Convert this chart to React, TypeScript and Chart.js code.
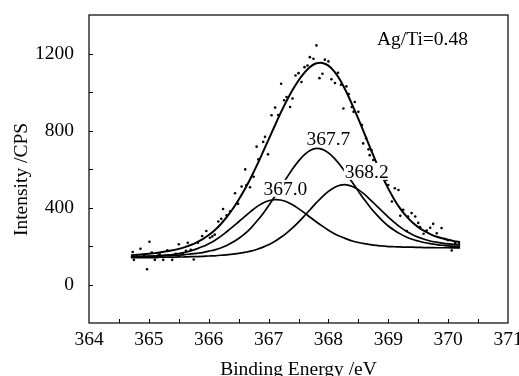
import React, { useEffect, useRef } from "react";
import { Chart, registerables } from "chart.js";

Chart.register(...registerables);

// ---------- data ----------
const energy = [
  364.7, 364.8, 364.9, 365.0, 365.1, 365.2, 365.3, 365.4, 365.5, 365.6,
  365.7, 365.8, 365.9, 366.0, 366.1, 366.2, 366.3, 366.4, 366.5, 366.6,
  366.7, 366.8, 366.9, 367.0, 367.1, 367.2, 367.3, 367.4, 367.5, 367.6,
  367.7, 367.8, 367.9, 368.0, 368.1, 368.2, 368.3, 368.4, 368.5, 368.6,
  368.7, 368.8, 368.9, 369.0, 369.1, 369.2, 369.3, 369.4, 369.5, 369.6,
  369.7, 369.8, 369.9, 370.0, 370.1, 370.2,
];

const envelope = [
  152, 154, 157, 160, 163, 168, 173, 178, 185, 194,
  205, 219, 236, 257, 282, 313, 350, 392, 440, 493,
  552, 616, 684, 753, 822, 890, 953, 1010, 1060, 1101,
  1132, 1149, 1151, 1137, 1106, 1060, 1000, 932, 860, 785,
  708, 633, 562, 498, 442, 394, 355, 323, 298, 278,
  262, 249, 240, 232, 225, 220,
];

const peak3670 = [
  143, 144, 145, 146, 147, 150, 153, 156, 161, 167,
  175, 185, 197, 212, 229, 250, 274, 299, 326, 353,
  379, 403, 422, 435, 441, 439, 430, 414, 394, 372,
  348, 325, 303, 282, 264, 249, 237, 226, 218, 212,
  207, 203, 200, 197, 196, 195, 194, 194, 193, 192,
  192, 191, 191, 191, 190, 190,
];

const peak3677 = [
  144, 145, 146, 147, 147, 149, 151, 152, 153, 155,
  159, 162, 166, 173, 180, 190, 203, 219, 239, 263,
  292, 327, 365, 409, 456, 505, 553, 600, 641, 675,
  697, 707, 702, 684, 655, 618, 575, 530, 485, 441,
  400, 364, 332, 304, 282, 263, 247, 235, 226, 218,
  212, 207, 204, 201, 199, 198,
];

const peak3682 = [
  139, 139, 140, 140, 140, 142, 142, 142, 143, 143,
  145, 145, 146, 148, 149, 152, 154, 158, 162, 167,
  173, 182, 193, 206, 223, 244, 267, 294, 324, 357,
  391, 425, 457, 484, 504, 516, 518, 509, 493, 469,
  440, 410, 380, 350, 323, 298, 277, 260, 246, 235,
  226, 220, 215, 211, 208, 206,
];

const obsEnergy = [
  364.73, 364.75, 364.8, 364.86, 364.92, 364.97, 365.01, 365.05, 365.1, 365.15,
  365.18, 365.24, 365.31, 365.35, 365.39, 365.45, 365.5, 365.57, 365.62, 365.65,
  365.7, 365.75, 365.82, 365.89, 365.96, 366.02, 366.06, 366.1, 366.16, 366.21,
  366.24, 366.3, 366.36, 366.44, 366.49, 366.55, 366.61, 366.63, 366.69, 366.75,
  366.8, 366.83, 366.91, 366.94, 366.99, 367.05, 367.11, 367.16, 367.21, 367.26,
  367.3, 367.36, 367.4, 367.45, 367.5, 367.55, 367.6, 367.65, 367.69, 367.75,
  367.8, 367.85, 367.9, 367.94, 368.0, 368.05, 368.11, 368.16, 368.21, 368.25,
  368.3, 368.34, 368.39, 368.42, 368.44, 368.5, 368.56, 368.58, 368.63, 368.67,
  368.69, 368.72, 368.75, 368.83, 368.9, 368.97, 369.0, 369.06, 369.11, 369.17,
  369.2, 369.25, 369.31, 369.33, 369.39, 369.45, 369.5, 369.53, 369.59, 369.64,
  369.7, 369.75, 369.81, 369.89, 369.95, 370.0, 370.06, 370.12, 370.18,
];

const obsCounts = [
  169, 128, 145, 186, 150, 79, 222, 166, 128, 150,
  157, 128, 178, 152, 128, 160, 209, 157, 175, 217,
  180, 130, 217, 252, 278, 243, 250, 259, 327, 341,
  392, 360, 380, 474, 419, 509, 598, 517, 505, 560,
  716, 650, 741, 767, 676, 879, 919, 880, 1043, 957,
  974, 922, 966, 1086, 1098, 1052, 1129, 1138, 1181, 1173,
  1242, 1072, 1095, 1168, 1159, 1066, 1047, 1100, 1038, 914,
  1029, 990, 922, 897, 948, 897, 828, 733, 760, 702,
  672, 698, 647, 610, 560, 543, 517, 431, 500, 491,
  357, 388, 278, 353, 371, 353, 320, 298, 264, 280,
  295, 315, 266, 293, 236, 230, 177, 215, 210,
];

const xTickMarks = [364.5, 365, 365.5, 366, 366.5, 367, 367.5, 368, 368.5, 369, 369.5, 370, 370.5];
const yTickMarks = [0, 200, 400, 600, 800, 1000, 1200];
const yLabelled = [0, 400, 800, 1200];

const peakLabels = ["367.0", "367.7", "368.2"];
const peakLabelX = [367.28, 368.0, 368.64];
const peakLabelY = [466, 724, 554];

const ratioLabel = "Ag/Ti=0.48";
const ratioLabelX = 368.81;
const ratioLabelY = 1242;

const xTitle = "Binding Energy /eV";
const yTitle = "Intensity /CPS";

// ---------- style ----------
const FAMILY = "'Liberation Serif', 'Times New Roman', serif";
const FSIZE = 19.5;

const decor = {
  id: "decor",
  afterDatasetsDraw(chart: any) {
    const { ctx, scales } = chart;
    const xs = scales.x;
    const ys = scales.y;
    ctx.save();
    ctx.font = `${FSIZE}px ${FAMILY}`;
    ctx.textBaseline = "alphabetic";
    ctx.textAlign = "center";
    peakLabels.forEach((t, i) => {
      const px = xs.getPixelForValue(peakLabelX[i]);
      const py = ys.getPixelForValue(peakLabelY[i]);
      const w = ctx.measureText(t).width;
      ctx.fillStyle = "#fff";
      ctx.fillRect(px - w / 2 - 1, py - 15, w + 2, 17);
      ctx.fillStyle = "#000";
      ctx.fillText(t, px, py);
    });
    ctx.textAlign = "left";
    ctx.fillStyle = "#000";
    ctx.fillText(ratioLabel, xs.getPixelForValue(ratioLabelX), ys.getPixelForValue(ratioLabelY));
    ctx.restore();
  },
  afterDraw(chart: any) {
    const { ctx, chartArea: a, scales } = chart;
    const xs = scales.x;
    const ys = scales.y;
    ctx.save();
    ctx.strokeStyle = "#000";
    ctx.lineWidth = 1.2;
    ctx.strokeRect(a.left, a.top, a.right - a.left, a.bottom - a.top);
    ctx.lineWidth = 1;
    ctx.beginPath();
    xTickMarks.forEach((v) => {
      const px = Math.round(xs.getPixelForValue(v)) + 0.5;
      ctx.moveTo(px, a.bottom);
      ctx.lineTo(px, a.bottom - 4);
    });
    yTickMarks.forEach((v) => {
      const py = Math.round(ys.getPixelForValue(v)) + 0.5;
      ctx.moveTo(a.left, py);
      ctx.lineTo(a.left + 4, py);
    });
    ctx.stroke();

    ctx.fillStyle = "#000";
    ctx.font = `${FSIZE}px ${FAMILY}`;
    ctx.textBaseline = "alphabetic";
    ctx.textAlign = "center";
    ctx.fillText(xTitle, (a.left + a.right) / 2, 375);
    ctx.translate(26.5, 179.5);
    ctx.rotate(-Math.PI / 2);
    ctx.fillText(yTitle, 0, 0);
    ctx.restore();
  },
};

export default function App() {
  const ref = useRef<HTMLCanvasElement | null>(null);

  useEffect(() => {
    if (!ref.current) return;
    const line = (vals: number[], width: number) => ({
      data: energy.map((x, i) => ({ x, y: vals[i] })),
      showLine: true,
      borderColor: "#000",
      borderWidth: width,
      pointRadius: 0,
      tension: 0.3,
      fill: false,
    });
    const chart = new Chart(ref.current, {
      type: "scatter",
      data: {
        datasets: [
          {
            label: "Observed",
            data: obsEnergy.map((x, i) => ({ x, y: obsCounts[i] })),
            showLine: false,
            pointRadius: 1.3,
            pointBackgroundColor: "#000",
            pointBorderWidth: 0,
          } as any,
          { label: "Envelope", ...line(envelope, 2) },
          { label: "367.0", ...line(peak3670, 1.7) },
          { label: "367.7", ...line(peak3677, 1.7) },
          { label: "368.2", ...line(peak3682, 1.7) },
        ],
      },
      options: {
        responsive: false,
        animation: false,
        layout: { padding: { left: 0, right: 11, top: 15, bottom: 0 } },
        plugins: { legend: { display: false }, tooltip: { enabled: false } },
        scales: {
          x: {
            type: "linear",
            min: 364,
            max: 371,
            afterFit: (s: any) => {
              s.height = 53;
              s.paddingLeft = 0;
              s.paddingRight = 0;
            },
            grid: { display: false },
            border: { display: false },
            ticks: {
              stepSize: 1,
              autoSkip: false,
              maxRotation: 0,
              padding: -3,
              color: "#000",
              font: { family: FAMILY, size: FSIZE },
            },
          },
          y: {
            type: "linear",
            min: -200,
            max: 1400,
            afterFit: (s: any) => {
              s.width = 89;
              s.paddingTop = 0;
              s.paddingBottom = 0;
            },
            grid: { display: false },
            border: { display: false },
            ticks: {
              stepSize: 200,
              autoSkip: false,
              padding: 7,
              color: "#000",
              font: { family: FAMILY, size: FSIZE },
              callback: (v: any) => (yLabelled.includes(Number(v)) ? String(v) : ""),
            },
          },
        },
      } as any,
      plugins: [decor],
    });
    return () => chart.destroy();
  }, []);

  return (
    <div style={{ position: "fixed", left: 0, top: 0, width: 519, height: 376, background: "#fff" }}>
      <canvas ref={ref} width={519} height={376} style={{ display: "block" }} />
    </div>
  );
}
